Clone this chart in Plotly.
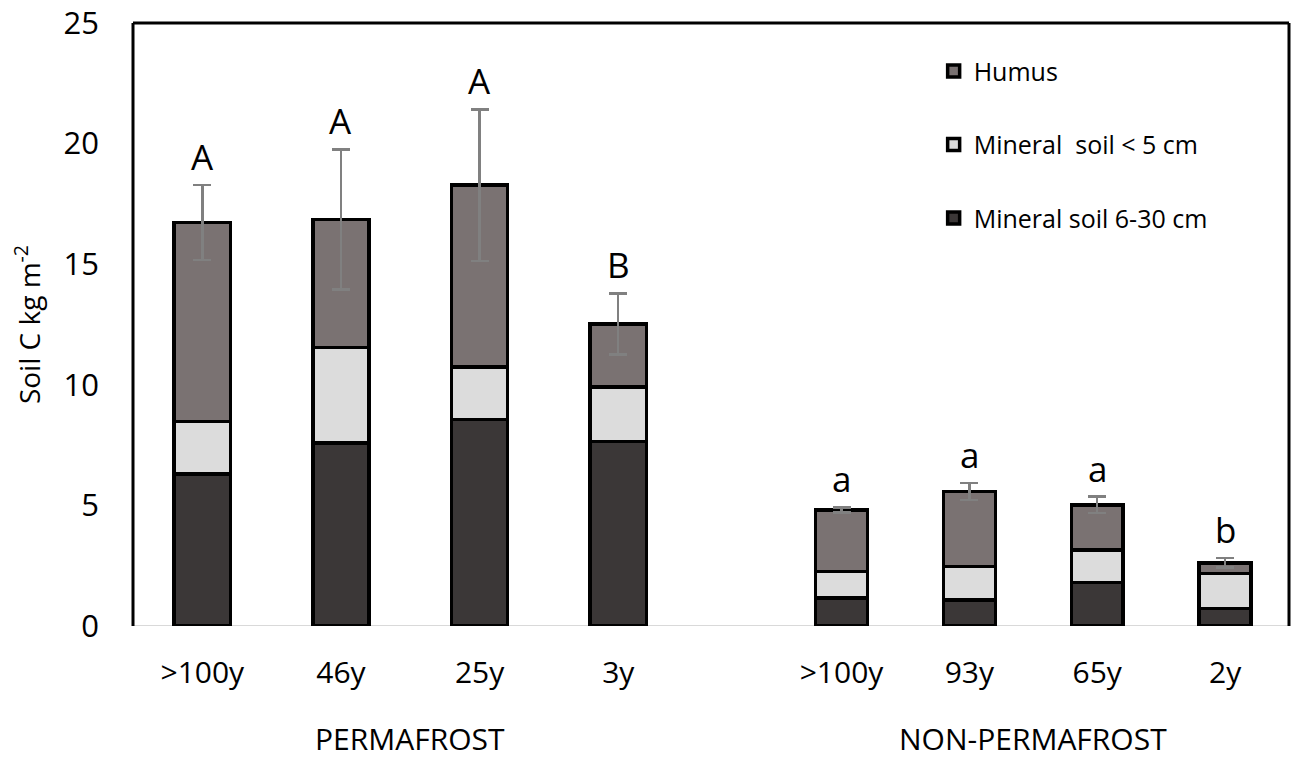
import plotly.graph_objects as go

# categories
perma_labels = [">100y", "46y", "25y", "3y"]
non_labels = [">100y", "93y", "65y", "2y"]

# soil C (kg m-2) per layer, permafrost sites
perma_deep = [6.31, 7.58, 8.57, 7.65]
perma_top = [2.16, 3.97, 2.16, 2.26]
perma_humus = [8.26, 5.31, 7.55, 2.61]
perma_err = [1.55, 2.90, 3.14, 1.27]
perma_letters = ["A", "A", "A", "B"]

# non-permafrost sites
non_deep = [1.17, 1.08, 1.80, 0.73]
non_top = [1.08, 1.38, 1.35, 1.45]
non_humus = [2.56, 3.11, 1.87, 0.44]
non_err = [0.11, 0.35, 0.34, 0.19]
non_letters = ["a", "a", "a", "b"]

series_names = ["Mineral soil 6-30 cm", "Mineral  soil < 5 cm", "Humus"]
colors = ["#3b3737", "#dcdcdc", "#7a7272"]
ranks = [3, 2, 1]

FONT = "Open Sans"

fig = go.Figure()

groups = [
    ("x", perma_labels, [perma_deep, perma_top, perma_humus], perma_err, perma_letters, True),
    ("x2", non_labels, [non_deep, non_top, non_humus], non_err, non_letters, False),
]

for xa, labels, layers, err, letters, show in groups:
    for i, (name, vals) in enumerate(zip(series_names, layers)):
        err_opts = None
        if name == "Humus":
            err_opts = dict(type="data", array=err, symmetric=True,
                            color="#808080", thickness=2.5, width=9)
        fig.add_trace(go.Bar(
            x=labels, y=vals, name=name, xaxis=xa, yaxis="y",
            marker=dict(color=colors[i], line=dict(color="black", width=3.5)),
            error_y=err_opts, showlegend=show, legendgroup=name,
            legendrank=ranks[i],
        ))
    # significance letters above the error bars
    for j, lab in enumerate(labels):
        top = layers[0][j] + layers[1][j] + layers[2][j] + err[j]
        fig.add_annotation(x=lab, y=top, xref=xa, yref="y", text=letters[j],
                           showarrow=False, yanchor="bottom", yshift=3,
                           font=dict(family=FONT, size=35, color="black"))

# group labels
fig.add_annotation(x=0.5, xref="x domain", y=-0.187, yref="paper",
                   yanchor="middle", text="PERMAFROST", showarrow=False,
                   font=dict(family=FONT, size=30, color="black"))
fig.add_annotation(x=0.5, xref="x2 domain", y=-0.187, yref="paper",
                   yanchor="middle", text="NON-PERMAFROST", showarrow=False,
                   font=dict(family=FONT, size=30, color="black"))

# frame: black left/top/right, light grey baseline
fig.add_shape(type="line", xref="paper", yref="y", x0=0, x1=1, y0=0, y1=0,
              line=dict(color="#d9d9d9", width=2), layer="below")
fig.add_shape(type="line", xref="paper", yref="paper", x0=0, x1=0, y0=0, y1=1,
              line=dict(color="black", width=3))
fig.add_shape(type="line", xref="paper", yref="paper", x0=0, x1=1, y0=1, y1=1,
              line=dict(color="black", width=3))
fig.add_shape(type="line", xref="paper", yref="paper", x0=1, x1=1, y0=0, y1=1,
              line=dict(color="black", width=3))

fig.update_layout(
    width=1299, height=764,
    margin=dict(l=133, r=10, t=23, b=138),
    plot_bgcolor="white", paper_bgcolor="white",
    barmode="stack", bargap=0.595,
    font=dict(family=FONT, color="black"),
    xaxis=dict(domain=[0, 0.4797], anchor="y", showgrid=False, showline=False,
               ticks="", tickfont=dict(size=30), ticklabelstandoff=26,
               automargin=False),
    xaxis2=dict(domain=[0.5576, 1], anchor="y", showgrid=False, showline=False,
                ticks="", tickfont=dict(size=30), ticklabelstandoff=26,
                automargin=False),
    yaxis=dict(range=[0, 25], tickvals=[0, 5, 10, 15, 20, 25], showgrid=False,
               zeroline=False, showline=False, ticks="",
               tickfont=dict(size=31), ticklabelstandoff=33, automargin=False,
               ticklabeloverflow="allow",
               title=dict(text="Soil C kg m<sup>-2</sup>",
                          font=dict(family=FONT, size=28), standoff=14)),
    legend=dict(x=0.6926, y=0.958, xanchor="left", yanchor="top",
                traceorder="grouped", tracegroupgap=38,
                font=dict(family=FONT, size=25, color="black"),
                bgcolor="rgba(0,0,0,0)"),
)

# drop the default 8px page margin so the figure fills the window
fig.write_html("out.html", config={"displayModeBar": False},
               post_script="document.body.style.margin = '0';")
